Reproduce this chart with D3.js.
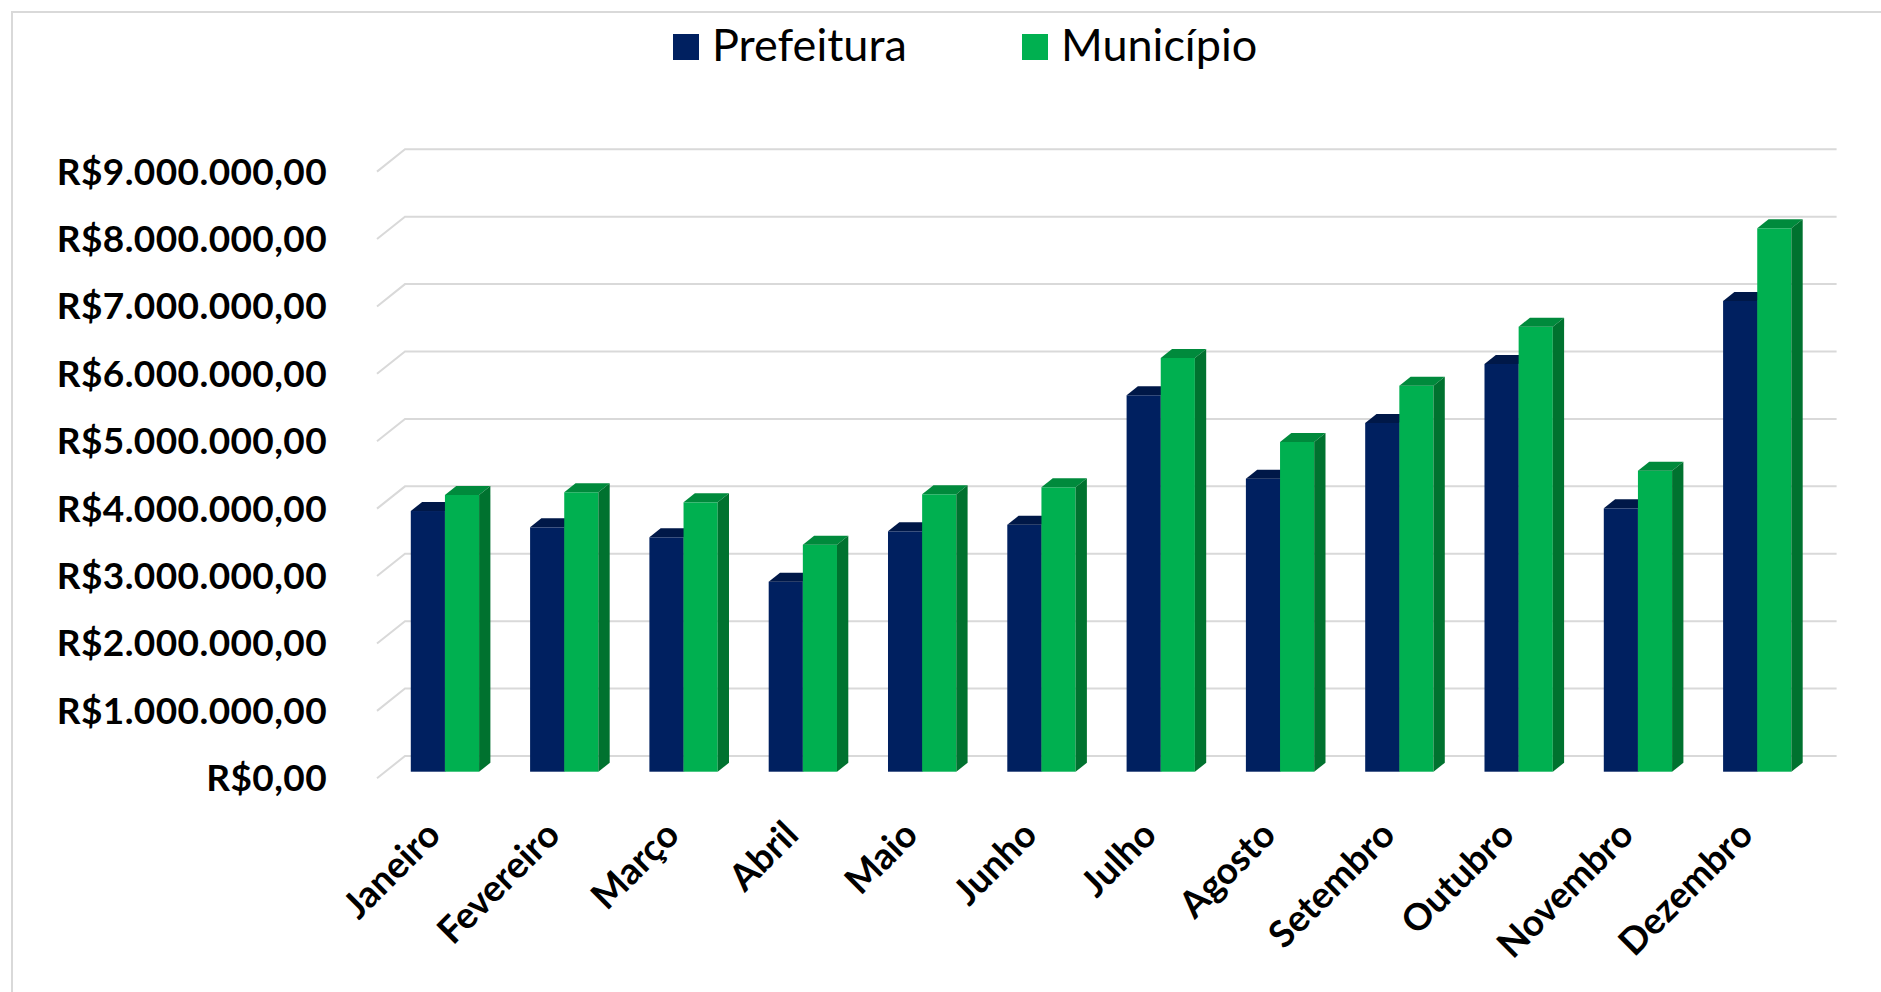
<!DOCTYPE html>
<html>
<head>
<meta charset="utf-8">
<script src="https://cdnjs.cloudflare.com/ajax/libs/d3/7.8.5/d3.min.js"></script>
<style>
  html, body { margin: 0; padding: 0; background: #ffffff; }
  svg { display: block; }
</style>
</head>
<body>
<svg id="chart" width="1881" height="992"></svg>
<script>
const months = ["Janeiro","Fevereiro","Março","Abril","Maio","Junho","Julho","Agosto","Setembro","Outubro","Novembro","Dezembro"];
const seriesNames = ["Prefeitura","Município"];
const prefeitura = [3867000, 3625000, 3477000, 2819000, 3566000, 3664000, 5584000, 4347000, 5173000, 6048000, 3907000, 6983000];
const municipio  = [4105000, 4145000, 3996000, 3368000, 4115000, 4219000, 6137000, 4891000, 5726000, 6601000, 4465000, 8061000];
const yTicks = [0, 1000000, 2000000, 3000000, 4000000, 5000000, 6000000, 7000000, 8000000, 9000000];

const svg = d3.select("#chart");
const W = 1881, H = 992;

// chart area border
svg.append("rect").attr("x", 12).attr("y", 12).attr("width", W).attr("height", H)
  .attr("fill", "#fff").attr("stroke", "#d9d9d9").attr("stroke-width", 2);

// 3D geometry
const floorLeft = 377, floorRight = 1808.6;
const DX = 28, DY = -22.3;       // full depth of floor (front -> back wall)
const f1 = 0.296, f2 = 0.70;     // bar front / back depth fractions

const x = d3.scaleBand().domain(months).range([floorLeft, floorRight]).padding(0);
const xs = d3.scaleBand().domain(seriesNames).range([0, x.bandwidth()]).paddingInner(0).paddingOuter(0.747);
const y = d3.scaleLinear().domain([0, 9000000]).range([778.3, 171.6]);

const locale = d3.formatLocale({decimal: ",", thousands: ".", grouping: [3], currency: ["R$", ""]});
const fmt = locale.format("$,.2f");

// gridlines (side wall + back wall)
const grid = svg.append("g");
yTicks.forEach(t => {
  const p = d3.path();
  p.moveTo(floorLeft, y(t));
  p.lineTo(floorLeft + DX, y(t) + DY);
  p.lineTo(floorRight + DX, y(t) + DY);
  grid.append("path").attr("d", p.toString()).attr("fill", "none")
    .attr("stroke", "#d9d9d9").attr("stroke-width", 2);
});

// y axis labels
svg.append("g").selectAll("text").data(yTicks).join("text")
  .attr("x", 327)
  .attr("y", d => y(d) + 13)
  .attr("text-anchor", "end")
  .attr("font-family", "Lato")
  .attr("font-weight", "bold")
  .attr("font-size", 37)
  .attr("letter-spacing", 0.4)
  .attr("fill", "#000")
  .text(d => fmt(d));

// bars
const colors = {
  "Prefeitura": {front: "#002060", top: "#001848", side: "#001540"},
  "Município":  {front: "#00B050", top: "#008A3C", side: "#00722F"}
};
const data = [];
months.forEach((m, i) => {
  data.push({m, s: "Prefeitura", v: prefeitura[i]});
  data.push({m, s: "Município", v: municipio[i]});
});
const bw = xs.bandwidth();
const ddx = DX * (f2 - f1), ddy = DY * (f2 - f1);
const bars = svg.append("g");
data.forEach(d => {
  const x0 = x(d.m) + xs(d.s) + DX * f1;
  const x1 = x0 + bw;
  const yT = y(d.v) + DY * f1;
  const yB = y(0) + DY * f1;
  const c = colors[d.s];
  const g = bars.append("g");
  g.append("rect").attr("x", x0).attr("y", yT).attr("width", bw).attr("height", yB - yT).attr("fill", c.front);
  g.append("polygon").attr("points", [[x0, yT], [x1, yT], [x1 + ddx, yT + ddy], [x0 + ddx, yT + ddy]].map(p => p.join(",")).join(" "))
    .attr("fill", c.top);
  g.append("polygon").attr("points", [[x1, yT], [x1 + ddx, yT + ddy], [x1 + ddx, yB + ddy], [x1, yB]].map(p => p.join(",")).join(" "))
    .attr("fill", c.side);
});

// x axis labels
svg.append("g").selectAll("text").data(months).join("text")
  .attr("transform", d => `translate(${x(d) + x.bandwidth() / 2 + 6},837) rotate(-45)`)
  .attr("text-anchor", "end")
  .attr("font-family", "Lato")
  .attr("font-weight", "bold")
  .attr("font-size", 37)
  .attr("fill", "#000")
  .text(d => d);

// legend
const legendItems = [
  {name: seriesNames[0], color: colors["Prefeitura"].front, rx: 673, tx: 712},
  {name: seriesNames[1], color: colors["Município"].front, rx: 1022, tx: 1061}
];
const lg = svg.append("g");
legendItems.forEach(it => {
  lg.append("rect").attr("x", it.rx).attr("y", 34).attr("width", 26).attr("height", 26).attr("fill", it.color);
  lg.append("text").attr("x", it.tx).attr("y", 61)
    .attr("font-family", "Lato").attr("font-size", 45).attr("fill", "#000").text(it.name);
});
</script>
</body>
</html>
